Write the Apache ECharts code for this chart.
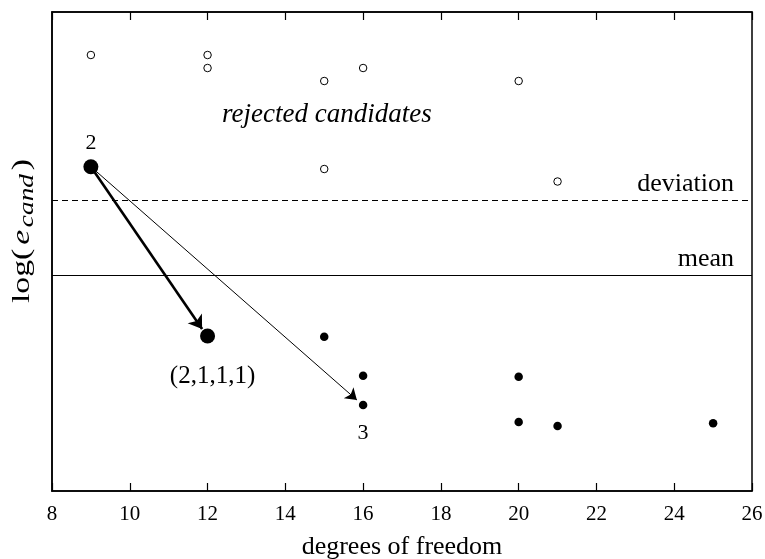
<!DOCTYPE html>
<html>
<head>
<meta charset="utf-8">
<script src="https://cdn.jsdelivr.net/npm/echarts@6/dist/echarts.min.js"></script>
<style>html,body{margin:0;padding:0;background:#fff;}#c{width:765px;height:559px;}</style>
</head>
<body>
<div id="c"></div>
<script>
// x ticks
const xTicks = [8, 10, 12, 14, 16, 18, 20, 22, 24, 26];
// rejected candidates (open circles): [degrees of freedom, log(e_cand)]
const rejected = [[9, 436], [12, 436], [12, 423], [15, 410], [16, 423], [20, 410], [15, 322], [21, 309.5]];
// accepted candidates (small filled dots)
const accepted = [[15, 154.3], [16, 115.3], [16, 86], [20, 114.3], [20, 69], [21, 65], [25, 67.7]];
// highlighted candidates (large dots) with labels
const highlighted = [[9, 324.3], [12, 155]];
const highlightedLabels = ['2', '(2,1,1,1)'];
// labeled small point
const labeledPoint = [16, 86];
const labeledPointText = '3';
// reference levels
const deviationLevel = 291;
const meanLevel = 216;
// arrows: [from, to]
const arrowThick = [[9, 324.3], [11.86, 162]];
const arrowThin = [[9, 324.3], [15.84, 91]];
// annotation
const annotation = {text: 'rejected candidates', x: 15.07, y: 376};

const FONT = 'Liberation Serif';
const chart = echarts.init(document.getElementById('c'));

const option = {
  backgroundColor: '#fff',
  animation: false,
  textStyle: {fontFamily: FONT, color: '#000'},
  grid: {left: 52, right: 13, top: 12, bottom: 68, show: true, borderColor: '#000', borderWidth: 1.5, backgroundColor: 'transparent', containLabel: false, outerBoundsMode: 'none'},
  xAxis: [{
    type: 'value', min: xTicks[0], max: xTicks[xTicks.length - 1], interval: 2, position: 'bottom',
    name: 'degrees of freedom', nameLocation: 'middle', nameGap: 43,
    nameTextStyle: {fontSize: 26, fontFamily: FONT, color: '#000'},
    axisLine: {show: true, lineStyle: {color: '#000', width: 1.5}},
    axisTick: {show: true, inside: true, length: 8, lineStyle: {color: '#000', width: 1.2}},
    axisLabel: {show: true, margin: 13, fontSize: 21, fontFamily: FONT, color: '#000'},
    splitLine: {show: false}
  }, {
    type: 'value', min: xTicks[0], max: xTicks[xTicks.length - 1], interval: 2, position: 'top',
    axisLine: {show: true, lineStyle: {color: '#000', width: 1.5}},
    axisTick: {show: true, inside: true, length: 8, lineStyle: {color: '#000', width: 1.2}},
    axisLabel: {show: false},
    splitLine: {show: false}
  }],
  yAxis: {
    type: 'value', min: 0, max: 479,
    axisLine: {show: true, lineStyle: {color: '#000', width: 1.5}},
    axisTick: {show: false}, axisLabel: {show: false}, splitLine: {show: false}
  },
  series: [
    {
      type: 'lines', coordinateSystem: 'cartesian2d', z: 2,
      symbol: ['none', 'arrow'], symbolSize: 13,
      lineStyle: {color: '#000', width: 2.6, opacity: 1},
      data: [{coords: arrowThick}]
    },
    {
      type: 'lines', coordinateSystem: 'cartesian2d', z: 2,
      symbol: ['none', 'arrow'], symbolSize: 11,
      lineStyle: {color: '#000', width: 1, opacity: 1},
      data: [{coords: arrowThin}]
    },
    {
      type: 'scatter', z: 3, symbol: 'circle', symbolSize: 7.5,
      itemStyle: {color: '#fff', borderColor: '#000', borderWidth: 1, opacity: 1},
      data: rejected,
      markLine: {
        silent: true, symbol: 'none',
        data: [
          {yAxis: deviationLevel, lineStyle: {type: [6, 4], color: '#000', width: 1.2},
           label: {formatter: 'deviation', position: 'insideEndTop', distance: [18, 3], fontSize: 26, fontFamily: FONT, color: '#000'}},
          {yAxis: meanLevel, lineStyle: {type: 'solid', color: '#000', width: 1},
           label: {formatter: 'mean', position: 'insideEndTop', distance: [18, 3], fontSize: 26, fontFamily: FONT, color: '#000'}}
        ]
      }
    },
    {
      type: 'scatter', z: 3, symbol: 'circle', symbolSize: 8.5,
      itemStyle: {color: '#000', opacity: 1},
      data: accepted.map(p => {
        const isLab = p[0] === labeledPoint[0] && p[1] === labeledPoint[1];
        return isLab ? {value: p, label: {show: true, formatter: labeledPointText, position: 'bottom', distance: 13, fontSize: 22, fontFamily: FONT, color: '#000'}} : {value: p};
      })
    },
    {
      type: 'scatter', z: 4, symbol: 'circle', symbolSize: 15,
      itemStyle: {color: '#000', opacity: 1},
      data: highlighted.map((p, i) => ({
        value: p,
        label: i === 0
          ? {show: true, formatter: highlightedLabels[i], position: 'top', distance: 5, fontSize: 22, fontFamily: FONT, color: '#000'}
          : {show: true, formatter: highlightedLabels[i], position: 'bottom', distance: 20, offset: [5, 0], fontSize: 25, fontFamily: FONT, color: '#000'}
      }))
    },
    {
      type: 'scatter', z: 1, symbolSize: 0, silent: true,
      itemStyle: {opacity: 1},
      data: [{value: [annotation.x, annotation.y],
        label: {show: true, formatter: annotation.text, position: 'inside', fontSize: 27, fontStyle: 'italic', fontFamily: FONT, color: '#000'}}]
    }
  ],
  graphic: [{
    type: 'text', x: 22, y: 231, rotation: Math.PI / 2, scaleX: 1.3, scaleY: 1,
    style: {
      text: '{n|log(}{i|e}{s|cand}{n|)}',
      align: 'center', verticalAlign: 'middle',
      rich: {
        n: {fontSize: 26, fontFamily: FONT, fill: '#000', color: '#000', verticalAlign: 'middle', lineHeight: 30},
        i: {fontSize: 26, fontFamily: FONT, fontStyle: 'italic', fill: '#000', color: '#000', verticalAlign: 'middle', lineHeight: 30, padding: [0, 1, 0, 3]},
        s: {fontSize: 21, fontFamily: FONT, fontStyle: 'italic', fill: '#000', color: '#000', verticalAlign: 'middle', lineHeight: 30, padding: [11, 3, 0, 1]}
      }
    }
  }]
};
chart.setOption(option);
</script>
</body>
</html>
